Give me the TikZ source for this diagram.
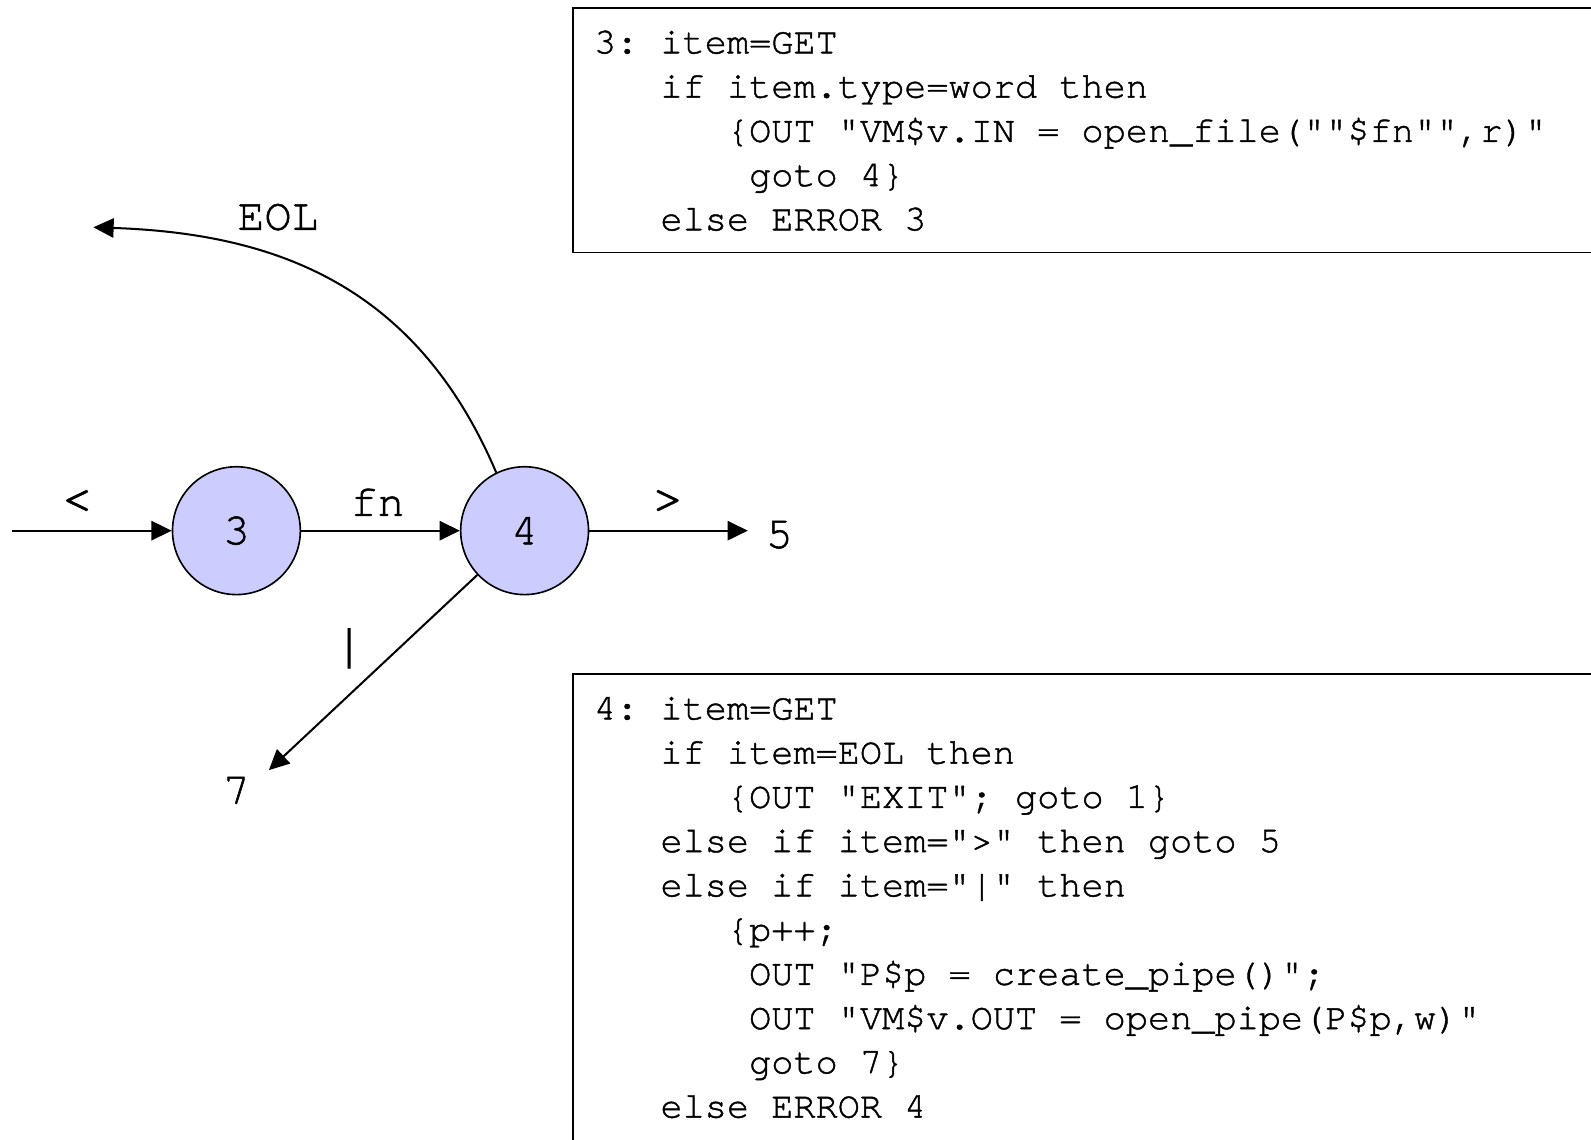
\documentclass[tikz,border=0pt]{standalone}
\usepackage{fontspec}
\setmonofont{TeX Gyre Cursor}[Ligatures=NoCommon,FakeBold=1.2]
\usetikzlibrary{arrows.meta}
\definecolor{statefill}{HTML}{CCCCFF}
\newcommand\codefont{\fontsize{18.2}{21.8}\selectfont\ttfamily}
\newcommand\labelfont{\fontsize{22.2}{26}\selectfont\ttfamily}
\newcommand\signfont{\fontsize{27}{30}\selectfont\ttfamily}
\tikzset{
  statenode/.style={circle,draw=black,fill=statefill,line width=0.8pt,minimum size=63pt,inner sep=0pt,font=\labelfont},
  trans/.style={line width=1pt,-{Triangle[length=10pt,width=9.5pt]}},
  lbl/.style={font=\labelfont,inner sep=0pt},
  sign/.style={font=\signfont,inner sep=0pt},
  code/.style={font=\codefont,align=left,anchor=north west,inner sep=0pt},
  codeframe/.style={line width=0.8pt}
}
\begin{document}
\begin{tikzpicture}[x=5pt,y=5pt]
\useasboundingbox (0,0) rectangle (156.8,-112.35);
\draw [codeframe] (56.5,-0.8) rectangle (162,-24.9);
\node [code] (prog3) at (58.5,-2.02) {\rule{0pt}{16pt}3: item=GET\\
~~~if item.type=word then\\
~~~~~~\{OUT "VM\$v.IN = open\_file(""\$fn"",r)"\\
~~~~~~~goto 4\}\\
~~~else ERROR 3};
\draw [codeframe] (56.5,-66.4) rectangle (162,-116);
\node [code] (prog4) at (58.5,-67.66) {\rule{0pt}{16pt}4: item=GET\\
~~~if item=EOL then\\
~~~~~~\{OUT "EXIT"; goto 1\}\\
~~~else if item=">" then goto 5\\
~~~else if item="|" then\\
~~~~~~\{p++;\\
~~~~~~~OUT "P\$p = create\_pipe()";\\
~~~~~~~OUT "VM\$v.OUT = open\_pipe(P\$p,w)"\\
~~~~~~~goto 7\}\\
~~~else ERROR 4};
\node [statenode] (s3) at (23.3,-52.3) {3};
\node [statenode] (s4) at (51.7,-52.3) {4};
\coordinate (start) at (1.2,-52.3);
\coordinate (to5) at (73.7,-52.3);
\coordinate (to7) at (26.5,-75.9);
\coordinate (toEOL) at (9.2,-22.4);
\draw [trans] (start) -- (s3);
\draw [trans] (s3) -- (s4);
\draw [trans] (s4) -- (to5);
\draw [trans] (s4) -- (to7);
\draw [trans] (s4.116) .. controls (41,-28) and (27,-23) .. (toEOL);
\node [sign] (lt) at (7.6,-49.5) {<};
\node [lbl] (lfn) at (37.2,-49.5) {fn};
\node [sign] (lgt) at (65.8,-49.5) {>};
\node [sign] (lbar) at (34.4,-63.9) {|};
\node [lbl] (leol) at (27.4,-21.4) {EOL};
\node [lbl] (l5) at (76.8,-52.7) {5};
\node [lbl] (l7) at (23.3,-77.9) {7};
\end{tikzpicture}
\end{document}
